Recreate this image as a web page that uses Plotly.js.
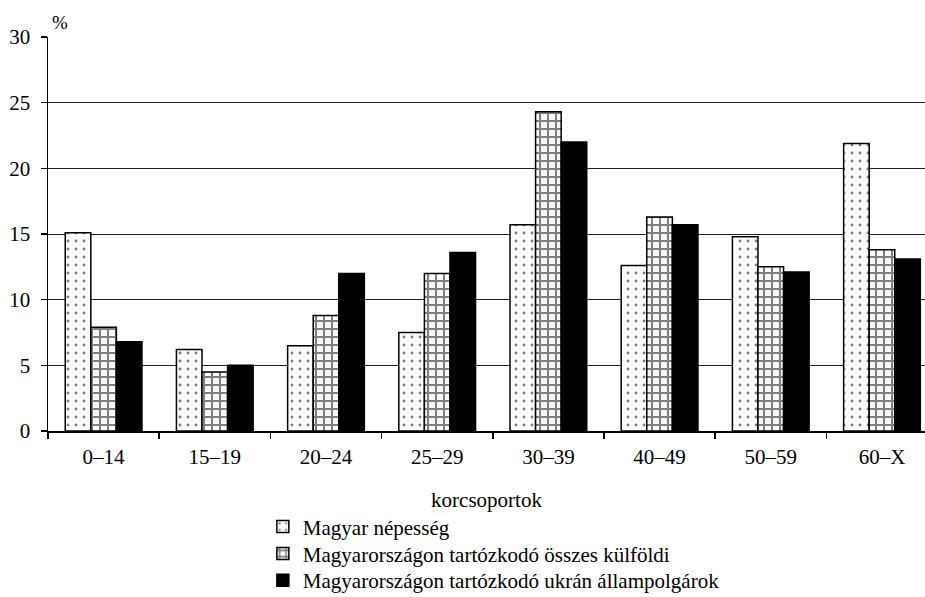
<!DOCTYPE html>
<html>
<head>
<meta charset="utf-8">
<script src="https://cdn.plot.ly/plotly-3.0.1.min.js"></script>
<style>html,body{margin:0;padding:0;background:#fff;}#chart{width:925px;height:597px;}</style>
</head>
<body>
<div id="chart"></div>
<script>
const categories = ["0–14", "15–19", "20–24", "25–29", "30–39", "40–49", "50–59", "60–X"];
const seriesNames = [
  "Magyar népesség",
  "Magyarországon tartózkodó összes külföldi",
  "Magyarországon tartózkodó ukrán állampolgárok"
];
const magyar = [15.1, 6.2, 6.5, 7.5, 15.7, 12.6, 14.8, 21.9];
const osszesKulfoldi = [7.9, 4.5, 8.8, 12.0, 24.3, 16.3, 12.5, 13.8];
const ukran = [6.8, 5.0, 12.0, 13.6, 22.0, 15.7, 12.1, 13.1];
const yTicks = [0, 5, 10, 15, 20, 25, 30];

const font = "Liberation Serif";
const line = {color: "#000", width: 1.5};

const traces = [
  {type: "bar", name: seriesNames[0], x: categories, y: magyar, legend: "legend",
   marker: {color: "#fff", line: line,
     pattern: {shape: ".", size: 8, solidity: 0.1, fgcolor: "#000", bgcolor: "#fff", fillmode: "overlay"}}},
  {type: "bar", name: seriesNames[1], x: categories, y: osszesKulfoldi, legend: "legend2",
   marker: {color: "#fff", line: line,
     pattern: {shape: "+", size: 8, solidity: 0.45, fgcolor: "#000", bgcolor: "#fff", fillmode: "overlay"}}},
  {type: "bar", name: seriesNames[2], x: categories, y: ukran, legend: "legend3",
   marker: {color: "#000", line: line}}
];

function leg(y) {
  return {x: 0.245, xanchor: "left", y: y, yanchor: "middle",
    orientation: "v", font: {family: font, size: 21, color: "#000"},
    bgcolor: "rgba(0,0,0,0)", borderwidth: 0, itemclick: false};
}

const layout = {
  width: 925, height: 597,
  margin: {l: 48, r: 0, t: 37, b: 166, autoexpand: false},
  paper_bgcolor: "#fff", plot_bgcolor: "#fff",
  font: {family: font, size: 21, color: "#000"},
  barmode: "group", bargap: 0.31, bargroupgap: 0,
  showlegend: true,
  legend: leg(-0.2435),
  legend2: leg(-0.3119),
  legend3: leg(-0.3795),
  xaxis: {
    type: "category", range: [-0.5, 7.387],
    showline: true, linecolor: "#000", linewidth: 1.5,
    ticks: "outside", tickson: "boundaries", ticklen: 6, tickcolor: "#000", tickwidth: 1.5,
    showgrid: false, zeroline: false, ticklabelstandoff: 6,
    tickfont: {family: font, size: 21, color: "#000"},
    title: {text: "korcsoportok", font: {family: font, size: 21, color: "#000"}, standoff: 24}
  },
  yaxis: {
    range: [0, 30], tickvals: yTicks, ticktext: yTicks.map(String),
    showline: true, linecolor: "#000", linewidth: 1.5,
    ticks: "outside", ticklen: 6, tickcolor: "#000", tickwidth: 1.5,
    showgrid: true, gridcolor: "#222", gridwidth: 1,
    zeroline: false, ticklabelstandoff: 6,
    tickfont: {family: font, size: 21, color: "#000"}
  },
  annotations: [{
    text: "%", xref: "paper", yref: "paper", x: 0.0137, y: 1.0, xanchor: "center", yanchor: "bottom",
    yshift: 2, showarrow: false, font: {family: font, size: 19, color: "#000"}
  }]
};

Plotly.newPlot("chart", traces, layout, {staticPlot: true, displayModeBar: false});
</script>
</body>
</html>
